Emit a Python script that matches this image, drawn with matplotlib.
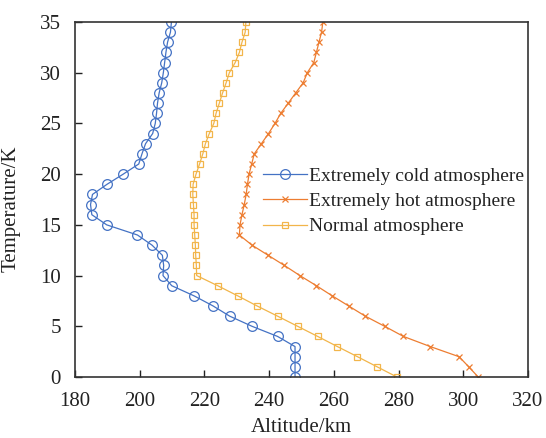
import matplotlib
matplotlib.use("Agg")
import matplotlib.pyplot as plt
import numpy as np

temperature = list(range(0, 36))

cold_altitude = [248, 248, 248, 248, 242.6, 234.7, 227.8, 222.7, 216.8, 209.9,
                 207.2, 207.4, 207.0, 203.8, 199.3, 189.8, 185.2, 184.8, 185.4, 189.9,
                 194.9, 199.7, 200.7, 201.8, 204.0, 204.8, 205.2, 205.5, 206.0, 206.8,
                 207.3, 207.7, 208.1, 208.6, 209.5, 209.8]

hot_altitude = [304.6, 301.7, 298.7, 289.8, 281.5, 275.7, 269.7, 264.6, 259.5, 254.6,
                249.5, 244.7, 239.7, 234.7, 230.8, 231.0, 231.6, 232.3, 232.9, 233.3,
                233.8, 234.6, 235.4, 237.6, 239.8, 241.8, 243.6, 245.9, 248.2, 250.5,
                251.8, 253.8, 254.6, 255.4, 256.2, 256.6]

normal_altitude = [279.5, 273.4, 267.3, 261.1, 255.0, 248.8, 242.6, 236.3, 230.3, 224.1,
                   217.6, 217.5, 217.3, 217.2, 217.0, 216.8, 216.8, 216.6, 216.4, 216.5,
                   217.4, 218.5, 219.5, 220.3, 221.5, 222.9, 223.6, 224.6, 225.6, 226.7,
                   227.7, 229.5, 230.8, 231.6, 232.6, 232.8]

labels = ["Extremely cold atmosphere", "Extremely hot atmosphere", "Normal atmosphere"]
x_ticks = [180, 200, 220, 240, 260, 280, 300, 320]
y_ticks = [0, 5, 10, 15, 20, 25, 30, 35]

plt.rcParams['font.family'] = ['Liberation Serif', 'DejaVu Serif']

fig = plt.figure(figsize=(5.46, 4.38), dpi=100)
ax = fig.add_axes([75/546, 1 - 377/438, (528 - 75)/546, (377 - 22)/438])

blue = '#4472C4'
orange = '#ED7D31'
yellow = '#F2B54A'

ax.plot(cold_altitude, temperature, color=blue, lw=0.9, marker='o', ms=7,
        mfc='none', mec=blue, mew=0.9, label=labels[0])
ax.plot(hot_altitude, temperature, color=orange, lw=0.9, marker='x', ms=5,
        mec=orange, mew=0.9, label=labels[1])
ax.plot(normal_altitude, temperature, color=yellow, lw=0.9, marker='s', ms=5,
        mfc='none', mec=yellow, mew=0.9, label=labels[2])

ax.set_xlim(180, 320)
ax.set_ylim(0, 35)
ax.set_xticks(x_ticks)
ax.set_yticks(y_ticks)
ax.tick_params(direction='in', length=5, width=1, labelsize=15, colors='#222222')
ax.tick_params(axis='x', pad=11)
ax.tick_params(axis='y', pad=10)
for s in ax.spines.values():
    s.set_color('#333333')
    s.set_linewidth(1.2)

ax.set_xlabel("Altitude/km", fontsize=15, color='#222222')
ax.set_ylabel("Temperature/K", fontsize=15, color='#222222')
ax.xaxis.set_label_coords((301 - 75) / 453, -(418 - 377) / 355)
ax.yaxis.set_label_coords((21 - 75) / 453, (377 - 209) / 355)

leg = ax.legend(loc='upper left', bbox_to_anchor=((263 - 75) / 453, (377 - 167) / 355),
                frameon=False, fontsize=14, handlelength=2.25, handletextpad=0.1,
                labelspacing=0.4, borderpad=0, borderaxespad=0)
for t in leg.get_texts():
    t.set_color('#222222')

fig.savefig("out.png", dpi=100)
